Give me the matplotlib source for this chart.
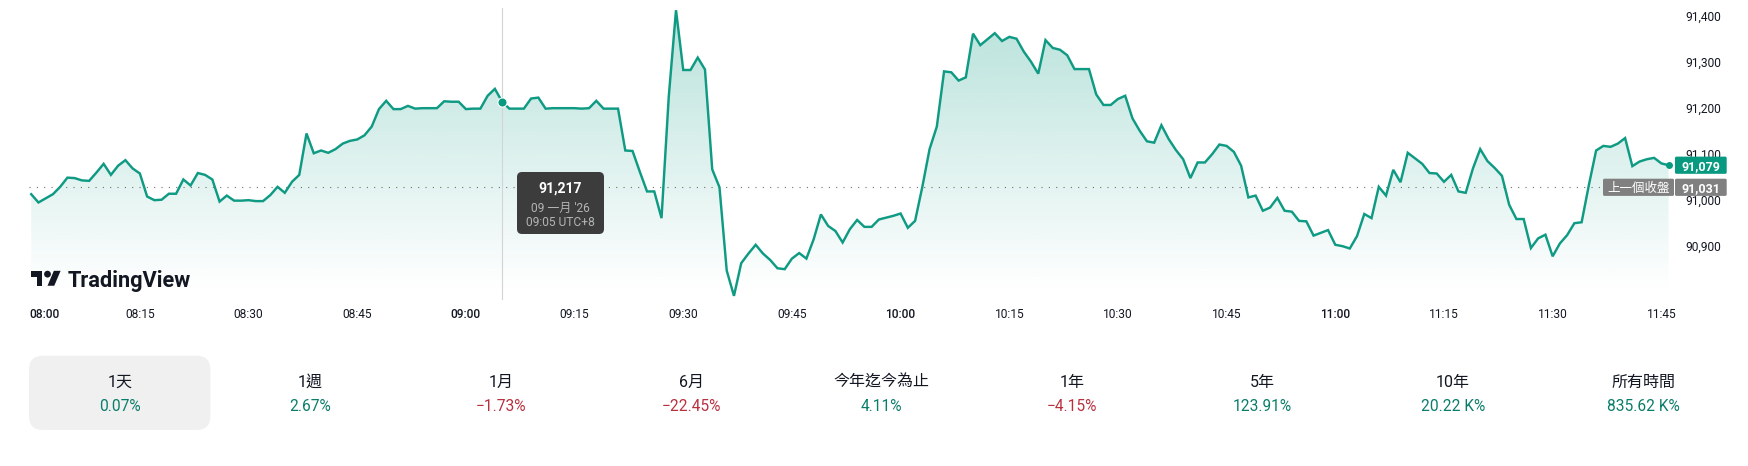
import numpy as np
import matplotlib
matplotlib.use('Agg')
import matplotlib.pyplot as plt
from matplotlib.patches import FancyBboxPatch, Polygon, Circle
from matplotlib.transforms import ScaledTranslation

plt.rcParams['font.family'] = ['Roboto', 'Noto Sans CJK TC', 'DejaVu Sans']

# one price per minute, starting 08:00
prices = [
    91016, 90998, 91007, 91016, 91032, 91052, 91051, 91046, 91045, 91063,
    91082, 91058, 91078, 91090, 91072, 91061, 91011, 91003, 91004, 91017,
    91017, 91048, 91035, 91062, 91058, 91048, 91000, 91013, 91002, 91002,
    91003, 91001, 91001, 91014, 91032, 91019, 91043, 91058, 91148, 91105,
    91111, 91106, 91114, 91126, 91132, 91135, 91144, 91163, 91201, 91219,
    91201, 91201, 91208, 91202, 91203, 91203, 91203, 91218, 91217, 91217,
    91201, 91202, 91202, 91230, 91245, 91217, 91202, 91202, 91202, 91224,
    91226, 91202, 91203, 91203, 91203, 91203, 91202, 91203, 91219, 91202,
    91202, 91202, 91111, 91110, 91065, 91022, 91022, 90964, 91228, 91416,
    91286, 91286, 91313, 91287, 91070, 91031, 90850, 90795, 90866, 90887,
    90906, 90887, 90873, 90855, 90853, 90876, 90888, 90876, 90918, 90972,
    90947, 90936, 90911, 90940, 90960, 90945, 90945, 90961, 90965, 90969,
    90974, 90943, 90958, 91032, 91114, 91163, 91283, 91281, 91263, 91270,
    91365, 91340, 91353, 91366, 91349, 91358, 91354, 91326, 91304, 91278,
    91351, 91334, 91330, 91318, 91288, 91288, 91288, 91233, 91210, 91210,
    91223, 91230, 91181, 91154, 91131, 91128, 91166, 91136, 91112, 91092,
    91051, 91085, 91085, 91103, 91124, 91121, 91108, 91078, 91009, 91013,
    90980, 90987, 91008, 90980, 90978, 90958, 90957, 90926, 90932, 90938,
    90906, 90903, 90898, 90925, 90973, 90964, 91032, 91013, 91069, 91042,
    91106, 91094, 91082, 91062, 91061, 91043, 91058, 91022, 91019, 91072,
    91114, 91088, 91073, 91056, 90993, 90962, 90962, 90899, 90920, 90928,
    90881, 90909, 90927, 90953, 90955, 91036, 91111, 91121, 91119, 91126,
    91138, 91077, 91087, 91092, 91095, 91083, 91079,
]
prev_close = 91031
hover_minute = 65

time_labels = ['08:00', '08:15', '08:30', '08:45', '09:00', '09:15', '09:30', '09:45',
               '10:00', '10:15', '10:30', '10:45', '11:00', '11:15', '11:30', '11:45']
price_ticks = [90900, 91000, 91100, 91200, 91300, 91400]

periods = ['1天', '1週', '1月', '6月', '今年迄今為止', '1年', '5年', '10年', '所有時間']
changes = ['0.07%', '2.67%', '−1.73%', '−22.45%', '4.11%', '−4.15%', '123.91%', '20.22 K%', '835.62 K%']

line_color = '#0f9a83'
fill_rgb = (8 / 255, 153 / 255, 129 / 255)
text_color = '#131722'
font_px = 0.72  # px to pt at dpi 100

W, H = 1748, 466
fig = plt.figure(figsize=(W / 100, H / 100), dpi=100, facecolor='white')

# pixel layout of the plot
ax_top, ax_bottom, ax_right = 8, 300, 1680
x0, px_per_min = 31.2, 7.245
close_y, px_per_unit = 187.3, 0.46

ax = fig.add_axes([0, (H - ax_bottom) / H, ax_right / W, (ax_bottom - ax_top) / H])
x = np.arange(len(prices))
y = np.array(prices)
xlim = (-x0 / px_per_min, (ax_right - x0) / px_per_min)
ylim = (prev_close - (ax_bottom - close_y) / px_per_unit, prev_close + (close_y - ax_top) / px_per_unit)

# gradient under the line
poly = ax.fill_between(x, y, ylim[0], facecolor='none', edgecolor='none')
grad = np.zeros((256, 1, 4))
grad[:, :, 0], grad[:, :, 1], grad[:, :, 2] = fill_rgb
grad[:, 0, 3] = np.linspace(0.29, 0, 256)
img = ax.imshow(grad, extent=[0, x[-1], ylim[0] + 7 / px_per_unit, ylim[1]], aspect='auto', zorder=1)
img.set_clip_path(poly.get_paths()[0], ax.transData)

ax.axhline(prev_close, xmin=(-0.3 - xlim[0]) / (xlim[1] - xlim[0]), color='#707070', lw=0.8,
           ls=(0, (1, 5.6)), zorder=2)
ax.axvline(hover_minute, color='#d4d4d4', lw=0.8, zorder=2)
ax.plot(x, y, color=line_color, lw=1.75, zorder=3, solid_joinstyle='miter')
ax.plot(hover_minute, prices[hover_minute], 'o', color='#089981', ms=6.6, mec='white', mew=0.8, zorder=4)
ax.plot(x[-1], prices[-1], 'o', color='#089981', ms=5, mew=0, zorder=4)

ax.set_xlim(xlim)
ax.set_ylim(ylim)
for s in ax.spines.values():
    s.set_visible(False)
ax.patch.set_alpha(0)

ax.set_xticks(np.arange(len(time_labels)) * 15)
ax.set_xticklabels(time_labels)
ax.tick_params(axis='x', length=0, pad=5.5, labelsize=12 * font_px, labelcolor=text_color)
for lab, name in zip(ax.get_xticklabels(), time_labels):
    if name.endswith(':00'):
        lab.set_fontweight('medium')
first_label = ax.get_xticklabels()[0]
first_label.set_ha('left')
first_label.set_transform(first_label.get_transform() + ScaledTranslation(-2 / 100, 0, fig.dpi_scale_trans))

ax.yaxis.tick_right()
ax.set_yticks(price_ticks)
ax.set_yticklabels([f'{v:,}' for v in price_ticks], va='center_baseline')
ax.tick_params(axis='y', length=0, pad=4.0, labelsize=12 * font_px, labelcolor=text_color)
for lab in ax.get_yticklabels():
    lab.set_transform(lab.get_transform() + ScaledTranslation(0, 1.7 / 100, fig.dpi_scale_trans))

# overlay in pixel coordinates for badges, tooltip, logo and the period row
ov = fig.add_axes([0, 0, 1, 1], zorder=5)
ov.set_xlim(0, W)
ov.set_ylim(H, 0)
ov.axis('off')


def value_y(v):
    return close_y + (prev_close - v) * px_per_unit


def round_box(x1, y1, x2, y2, r, color, **kw):
    ov.add_patch(FancyBboxPatch((x1 + r, y1 + r), x2 - x1 - 2 * r, y2 - y1 - 2 * r,
                                boxstyle=f'round,pad={r},rounding_size={r}',
                                fc=color, ec='none', **kw))


# price badges
last_y = value_y(prices[-1])
close_mid = value_y(prev_close)
round_box(1675, last_y - 8.6, 1726.7, last_y + 8.6, 1.5, '#089981')
ov.text(1701, last_y - 0.5, f'{prices[-1]:,}', color='white', fontsize=12.5 * font_px, fontweight='bold',
        ha='center', va='center_baseline')
round_box(1603, close_mid - 8.6, 1674, close_mid + 8.6, 1.5, '#808080')
round_box(1675, close_mid - 8.6, 1726.7, close_mid + 8.6, 1.5, '#808080')
ov.text(1638.5, close_mid - 0.5, '上一個收盤', color='white', fontsize=12.5 * font_px, ha='center', va='center_baseline')
ov.text(1701, close_mid - 0.5, f'{prev_close:,}', color='white', fontsize=12.5 * font_px, fontweight='bold',
        ha='center', va='center_baseline')

# hover tooltip
round_box(517, 172, 604, 234, 5, '#3c3c3c')
ov.text(560.5, 186.7, f'{prices[hover_minute]:,}', color='white', fontsize=14 * font_px, fontweight='bold',
        ha='center', va='center_baseline')
ov.text(560.5, 207, "09 一月 '26", color='#b4b4b4', fontsize=12 * font_px, ha='center', va='center_baseline')
ov.text(560.5, 221, '09:05 UTC+8', color='#b4b4b4', fontsize=12 * font_px, ha='center', va='center_baseline')

# TradingView logo
lx, ly, sx, sy = 30.6, 267.5, 0.845, 0.83
stem = [(14, 22), (7, 22), (7, 11), (0, 11), (0, 4), (14, 4)]
slash = [(28, 22), (20, 22), (27.5, 4), (35.5, 4)]
ov.add_patch(Polygon([(lx + a * sx, ly + b * sy) for a, b in stem], fc=text_color, ec='none'))
ov.add_patch(Polygon([(lx + a * sx, ly + b * sy) for a, b in slash], fc=text_color, ec='none'))
ov.add_patch(Circle((lx + 20 * sx, ly + 8 * sy), 3.4, fc=text_color, ec='none'))
ov.text(67.5, 279, 'TradingView', color=text_color, fontsize=21.8 * font_px, fontweight='bold',
        ha='left', va='center_baseline')

# period row
round_box(29, 355.7, 210.4, 430, 14, '#f0f0f0')
for i, (name, change) in enumerate(zip(periods, changes)):
    cx = 120 + i * 190.4
    ov.text(cx, 380.7, name, color=text_color, fontsize=16 * font_px, ha='center', va='center_baseline')
    color = '#b9303f' if change.startswith('−') else '#0a7d6a'
    ov.text(cx, 405, change, color=color, fontsize=15.5 * font_px, ha='center', va='center_baseline')

fig.savefig('out.png', dpi=100)
